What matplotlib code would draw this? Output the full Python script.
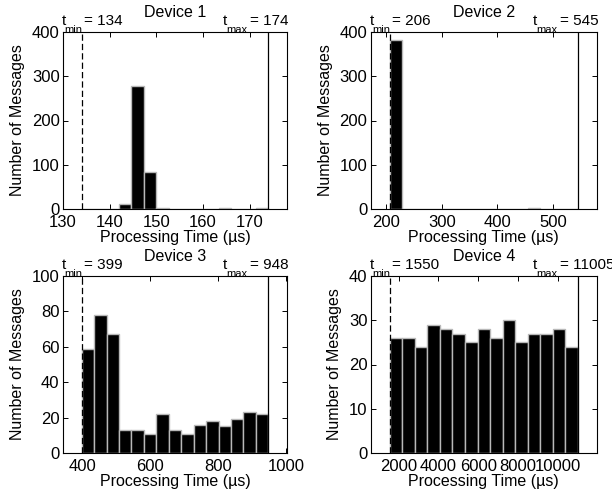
import numpy as np
import matplotlib
matplotlib.use("Agg")
import matplotlib.pyplot as plt

plt.rcParams['font.family'] = ['Liberation Sans', 'DejaVu Sans']

# data (15 bins between t_min and t_max)
devices = ["Device 1", "Device 2", "Device 3", "Device 4"]
t_min = [134, 206, 399, 1550]
t_max = [174, 545, 948, 11005]
counts_1 = [1, 0, 0, 12, 278, 83, 2, 0, 0, 0, 0, 2, 0, 0, 2]
counts_2 = [383, 0, 0, 1, 0, 0, 1, 1, 0, 0, 0, 3, 1, 0, 0]
counts_3 = [59, 78, 67, 13, 13, 11, 22, 13, 11, 16, 18, 15, 19, 23, 22]
counts_4 = [26, 26, 24, 29, 28, 27, 25, 28, 26, 30, 25, 27, 27, 28, 24]
counts = [counts_1, counts_2, counts_3, counts_4]
y_max = [400, 400, 100, 40]
y_ticks = [[0, 100, 200, 300, 400], [0, 100, 200, 300, 400],
           [0, 20, 40, 60, 80, 100], [0, 10, 20, 30, 40]]
x_ticks = [[130, 140, 150, 160, 170], [200, 300, 400, 500],
           [400, 600, 800, 1000], [2000, 4000, 6000, 8000, 10000]]

fig = plt.figure(figsize=(6.12, 5.0), dpi=100)
boxes = [[0.103, 0.582, 0.366, 0.354], [0.606, 0.582, 0.369, 0.354],
         [0.103, 0.094, 0.366, 0.354], [0.606, 0.094, 0.369, 0.354]]


def label(ax, x, txt, dx, dy, size):
    ax.annotate(txt, xy=(x, 1), xycoords=('data', 'axes fraction'),
                xytext=(dx, dy), textcoords='offset points', ha='left',
                va='baseline', fontsize=size, annotation_clip=False)


for i in range(4):
    ax = fig.add_axes(boxes[i])
    lo, hi = t_min[i], t_max[i]
    edges = np.linspace(lo, hi, len(counts[i]) + 1)
    ax.bar(edges[:-1], counts[i], width=np.diff(edges), align='edge',
           color='black', edgecolor='0.72', linewidth=1.0, zorder=2)
    ax.axvline(lo, color='black', lw=0.9, ls=(0, (5, 2.5)), zorder=3)
    ax.axvline(hi, color='black', lw=0.9, zorder=3)

    rng = hi - lo
    ax.set_xlim(lo - 0.1 * rng, hi + 0.1 * rng)
    ax.set_ylim(0, y_max[i])
    ax.set_xticks(x_ticks[i])
    ax.set_yticks(y_ticks[i])
    ax.tick_params(direction='in', top=True, right=True, length=3.5,
                   width=0.7, labelsize=12)
    ax.tick_params(axis='x', pad=4.5)
    ax.tick_params(axis='y', pad=2.5)
    for s in ax.spines.values():
        s.set_linewidth(0.8)

    ax.set_title(devices[i], fontsize=11.5, pad=10.5)
    ax.set_xlabel("Processing Time (\u00b5s)", fontsize=11.5, labelpad=-0.5)
    ax.set_ylabel("Number of Messages", fontsize=11.5, labelpad=5)

    # t_min / t_max labels with a MATLAB-like dropped subscript
    label(ax, lo, "t", -14.5, 5, 11)
    label(ax, lo, "min", -12.3, -0.5, 8)
    label(ax, lo, "= %d" % lo, 1.5, 5, 11)
    label(ax, hi, "t", -32.5, 5, 11)
    label(ax, hi, "max", -30.3, -0.5, 8)
    label(ax, hi, "= %d" % hi, -13, 5, 11)

fig.savefig("out.png", dpi=100)
